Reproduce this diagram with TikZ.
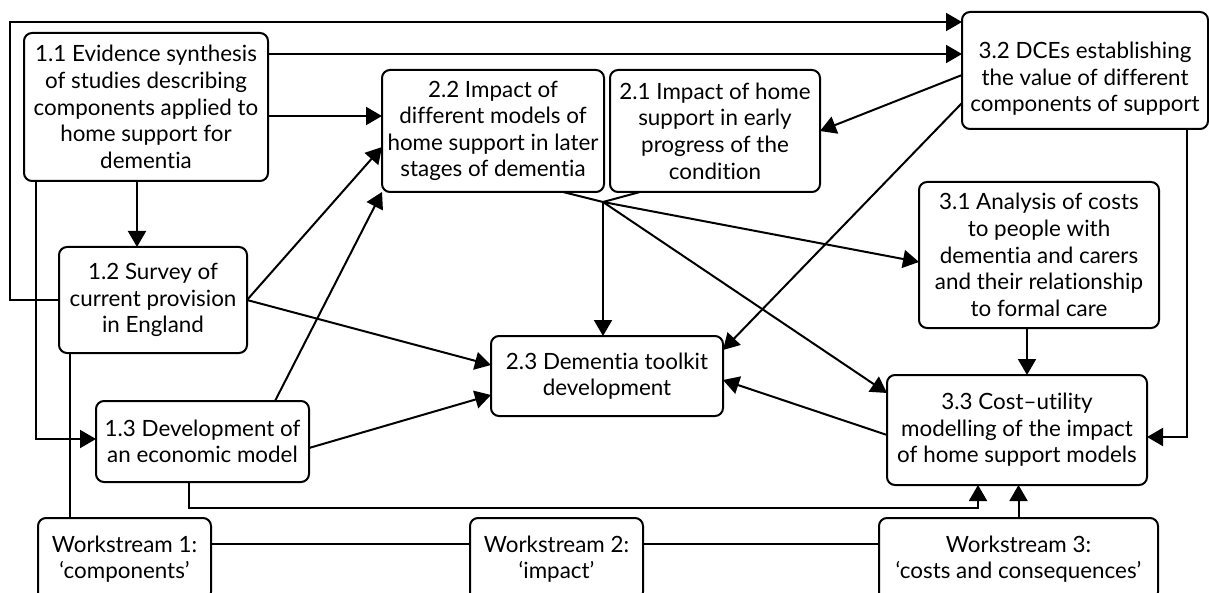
\documentclass[tikz,border=0pt]{standalone}
\usepackage{fontspec}
\setmainfont{Lato}[Ligatures={TeX,NoCommon}]
\usetikzlibrary{arrows.meta,positioning}

\begin{document}
\begin{tikzpicture}[
    x=0.5pt, y=-0.5pt,
    node distance=3pt,
    wpbox/.style={draw, rounded corners=4pt, line width=1pt, align=center,
                  inner sep=0pt, outer sep=0pt,
                  font=\fontsize{11.2pt}{13.3pt}\selectfont},
    wsbox/.style={wpbox, minimum height=41pt},
    arrow/.style={-{Triangle[length=8pt,width=9pt]}, line width=1pt},
    link/.style={line width=1pt},
  ]
    \useasboundingbox (0,0) rectangle (1209,593);

    % Workstream 1: components
    \node[wpbox, minimum width=122pt, minimum height=74pt] (n11) at (146,107)
          {1.1 Evidence synthesis\\of studies describing\\components applied to\\home support for\\dementia};
    \node[wpbox, minimum width=94pt, minimum height=53pt] (n12) at (153,300)
          {1.2 Survey of\\current provision\\in England};
    \node[wpbox, minimum width=106.5pt, minimum height=40.5pt] (n13) at (202.5,441.5)
          {1.3 Development of\\an economic model};

    % Workstream 2: impact
    \node[wpbox, minimum width=111pt, minimum height=61pt] (n22) at (493,131)
          {2.2 Impact of\\different models of\\home support in later\\stages of dementia};
    \node[wpbox, minimum width=105pt, minimum height=61pt, right=of n22] (n21)
          {2.1 Impact of home\\support in early\\progress of the\\condition};
    \node[wpbox, minimum width=116pt, minimum height=40pt] (n23) at (607,376)
          {2.3 Dementia toolkit\\development};

    % Workstream 3: costs and consequences
    \node[wpbox, minimum width=123pt, minimum height=58.5pt] (n32) at (1085,70.5)
          {\rule{0pt}{16.5pt}3.2 DCEs establishing\\the value of different\\components of support};
    \node[wpbox, minimum width=120pt, minimum height=73pt] (n31) at (1039,255)
          {3.1 Analysis of costs\\to people with\\dementia and carers\\and their relationship\\to formal care};
    \node[wpbox, minimum width=130pt, minimum height=55pt] (n33) at (1017,430)
          {3.3 Cost–utility\\modelling of the impact\\of home support models};

    % Workstream labels
    \node[wsbox, minimum width=86.5pt] (ws1) at (124.5,559) {Workstream 1:\\‘components’};
    \node[wsbox, minimum width=86.5pt] (ws2) at (556.5,559) {Workstream 2:\\‘impact’};
    \node[wsbox, minimum width=139.5pt] (ws3) at (1018.5,559) {Workstream 3:\\‘costs and consequences’};

    % connectors from 1.x
    \coordinate (loop) at (10,22);
    \draw[arrow] (n12.west) -- (n12.west -| loop) -- (loop) -- (loop -| n32.west);
    \draw[arrow] ([yshift=26.5pt]n11.east) -- ([yshift=26.5pt]n11.east -| n32.west);
    \draw[arrow] ([yshift=-4.5pt]n11.east) -- ([yshift=-4.5pt]n11.east -| n22.west);
    \draw[arrow] ([xshift=-4.5pt]n11.south) -- ([xshift=-4.5pt]n11.south |- n12.north);
    \draw[arrow] ([xshift=-55pt]n11.south) |- ([yshift=1.25pt]n13.west);
    \draw[link] ([xshift=-41.5pt]n12.south) -- ([xshift=-41.5pt]n12.south |- ws1.north);
    \draw[arrow] (n12.east) -- ([yshift=-8pt]n22.west);
    \draw[arrow] ([xshift=36.25pt]n13.north) -- (n22.south west);
    \draw[arrow] (n12.east) -- ([yshift=5.5pt]n23.west);
    \draw[arrow] ([yshift=-3.25pt]n13.east) -- ([yshift=-9.5pt]n23.west);
    \draw[arrow] ([xshift=-6.75pt]n13.south) -- ++(0,26) -| ([xshift=-19.5pt]n33.south);

    % connectors from 2.x
    \coordinate (jn) at (603,202);
    \draw[link] ([xshift=35pt]n22.south) -- (jn);
    \draw[link] ([xshift=-37.5pt]n21.south) -- (jn);
    \draw[arrow] (jn) -- (jn |- n23.north);
    \draw[arrow] (jn) -- ([yshift=-3.5pt]n31.west);
    \draw[arrow] (jn) -- ([yshift=18.5pt]n33.west);

    % connectors from 3.x
    \draw[arrow] ([yshift=-2.25pt]n32.west) -- (n21.east);
    \draw[arrow] ([yshift=-16.25pt]n32.west) -- ([yshift=13pt]n23.east);
    \draw[arrow] ([xshift=51pt]n32.south) |- ([yshift=-3.5pt]n33.east);
    \draw[arrow] ([xshift=-6pt]n31.south) -- ([xshift=-6pt]n31.south |- n33.north);
    \draw[arrow] ([yshift=-2.5pt]n33.west) -- ([yshift=-2pt]n23.east);

    % workstream line
    \draw[link] ([yshift=7.5pt]ws1.east) -- ([yshift=7.5pt]ws2.west);
    \draw[link] ([yshift=7.5pt]ws2.east) -- ([yshift=7.5pt]ws3.west);
    \draw[arrow] (ws3.north) -- (ws3.north |- n33.south);
\end{tikzpicture}
\end{document}
